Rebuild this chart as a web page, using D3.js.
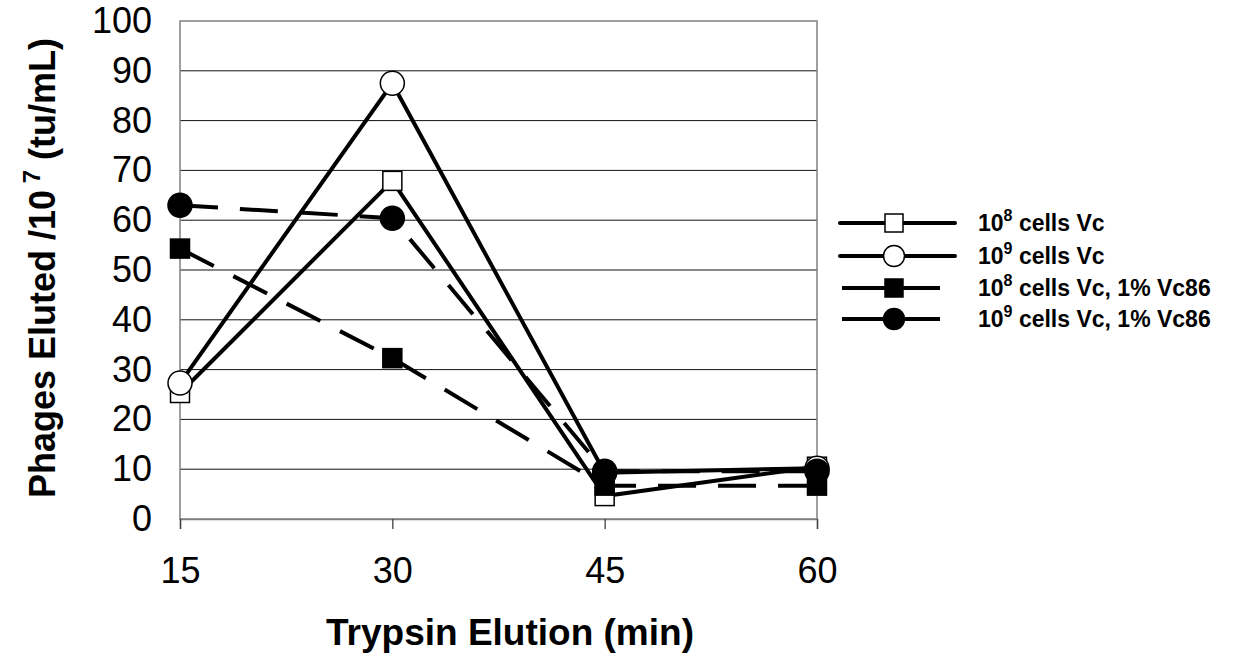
<!DOCTYPE html>
<html>
<head>
<meta charset="utf-8">
<script src="https://cdn.jsdelivr.net/npm/d3@7"></script>
<style>
  body { margin: 0; background: #fff; }
  svg text { font-family: "Liberation Sans", Arial, sans-serif; }
</style>
</head>
<body>
<div id="chart"></div>
<script>
// data
const times = [15, 30, 45, 60]
const yTicks = [0, 10, 20, 30, 40, 50, 60, 70, 80, 90, 100]
const cells8 = [25.3, 67.9, 4.6, 10.5]
const cells9 = [27.3, 87.5, 9.3, 10.2]
const cells8Vc86 = [54.3, 32.3, 6.7, 6.7]
const cells9Vc86 = [63, 60.4, 9.6, 9.6]
const powers = ['8', '9', '8', '9']
const legendText = [' cells Vc', ' cells Vc', ' cells Vc, 1% Vc86', ' cells Vc, 1% Vc86']

const width = 1235, height = 655
const plot = { left: 180, right: 817, top: 21, bottom: 519 }

const svg = d3.select('#chart').append('svg')
    .attr('width', width)
    .attr('height', height)

const x = d3.scalePoint().domain(times).range([plot.left, plot.right])
const y = d3.scaleLinear().domain([0, 100]).range([plot.bottom, plot.top])

// gridlines
svg.append('g')
    .selectAll('line')
    .data(yTicks.filter(d => d > 0 && d < 100))
    .join('line')
    .attr('x1', plot.left).attr('x2', plot.right)
    .attr('y1', d => y(d)).attr('y2', d => y(d))
    .attr('stroke', '#111')
    .attr('stroke-width', 1)

// plot border
svg.append('rect')
    .attr('x', plot.left).attr('y', plot.top)
    .attr('width', plot.right - plot.left)
    .attr('height', plot.bottom - plot.top)
    .attr('fill', 'none')
    .attr('stroke', '#808080')
    .attr('stroke-width', 1.5)

// y axis labels
const yAxis = svg.append('g')
    .attr('transform', 'translate(' + plot.left + ',0)')
    .call(d3.axisLeft(y).tickValues(yTicks).tickSize(0).tickPadding(28))
yAxis.select('.domain').remove()
yAxis.selectAll('text')
    .attr('font-size', 36)
    .attr('fill', '#000')
    .style('font-family', '"Liberation Sans", Arial, sans-serif')

// x axis
const xAxis = svg.append('g')
    .attr('transform', 'translate(0,' + plot.bottom + ')')
    .call(d3.axisBottom(x).tickSize(10).tickPadding(28))
xAxis.select('.domain').attr('stroke', '#808080').attr('stroke-width', 1.5)
xAxis.selectAll('line').attr('stroke', '#404040').attr('stroke-width', 1.3)
xAxis.selectAll('text')
    .attr('font-size', 36)
    .attr('fill', '#000')
    .style('font-family', '"Liberation Sans", Arial, sans-serif')

// axis titles
svg.append('text')
    .attr('x', 510)
    .attr('y', 645)
    .attr('text-anchor', 'middle')
    .attr('font-size', 37)
    .attr('font-weight', 'bold')
    .text('Trypsin Elution (min)')

const yTitle = svg.append('text')
    .attr('transform', 'translate(55,268) rotate(-90)')
    .attr('text-anchor', 'middle')
    .attr('font-size', 36)
    .attr('font-weight', 'bold')
yTitle.append('tspan').text('Phages Eluted /10')
yTitle.append('tspan').attr('dy', -15).attr('font-size', 24).text(' 7')
yTitle.append('tspan').attr('dy', 15).text(' (tu/mL)')

// series
const series = [
    { values: cells8, dash: null, marker: 'square', filled: false },
    { values: cells9, dash: null, marker: 'circle', filled: false },
    { values: cells8Vc86, dash: '38,22', marker: 'square', filled: true },
    { values: cells9Vc86, dash: '38,22', marker: 'circle', filled: true }
]

const line = d3.line()
    .x((d, i) => x(times[i]))
    .y(d => y(d))

function drawMarker(g, s, cx, cy, size) {
    if (s.marker === 'square') {
        const h = size.sq / 2
        g.append('rect')
            .attr('x', cx - h).attr('y', cy - h)
            .attr('width', size.sq).attr('height', size.sq)
            .attr('fill', s.filled ? '#000' : '#fff')
            .attr('stroke', '#000')
            .attr('stroke-width', 1.5)
    } else {
        g.append('circle')
            .attr('cx', cx).attr('cy', cy)
            .attr('r', size.r)
            .attr('fill', s.filled ? '#000' : '#fff')
            .attr('stroke', '#000')
            .attr('stroke-width', 1.5)
    }
}

const lines = svg.append('g')
series.forEach(s => {
    lines.append('path')
        .datum(s.values)
        .attr('d', line)
        .attr('fill', 'none')
        .attr('stroke', '#000')
        .attr('stroke-width', 4)
        .attr('stroke-dasharray', s.dash)
})
series.forEach(s => {
    const g = svg.append('g')
    s.values.forEach((v, i) => drawMarker(g, s, x(times[i]), y(v), { sq: 19, r: 12 }))
})

// legend
const legendY = [223, 256, 288, 319]
series.forEach((s, i) => {
    const g = svg.append('g')
    const ly = legendY[i]
    g.append('line')
        .attr('x1', s.dash ? 842 : 840)
        .attr('x2', s.dash ? 940 : 955)
        .attr('y1', ly).attr('y2', ly)
        .attr('stroke', '#000')
        .attr('stroke-width', 4)
        .attr('stroke-linecap', s.dash ? 'butt' : 'round')
    drawMarker(g, s, 894, ly, { sq: 18, r: 10.5 })
    const t = g.append('text')
        .attr('x', 978).attr('y', ly + 8)
        .attr('font-size', 23)
        .attr('font-weight', 'bold')
    t.append('tspan').text('10')
    t.append('tspan').attr('dy', -10).attr('font-size', 16).text(powers[i])
    t.append('tspan').attr('dy', 10).text(legendText[i])
})
</script>
</body>
</html>
